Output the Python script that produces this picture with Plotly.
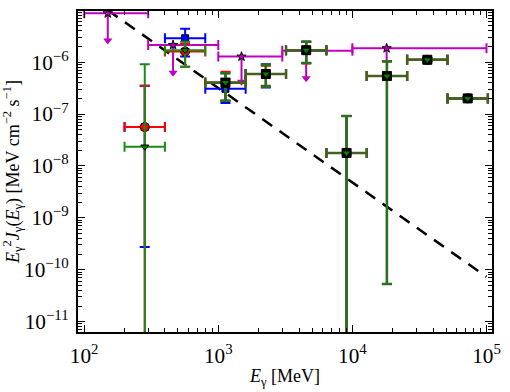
import plotly.graph_objects as go

# ---------------- data ----------------
# energy bins (MeV) for binned spectra
E_c = [283, 566, 1131, 2263, 4525, 9051, 18102, 36204, 72408]
E_lo = [200, 400, 800, 1600, 3200, 6400, 12800, 25600, 51200]
E_hi = [400, 800, 1600, 3200, 6400, 12800, 25600, 51200, 102400]

BOTTOM = 1e-13  # error bars running off the bottom of the plot

# green triangles
g_y = [2.34e-8, 1.70e-6, 4.07e-7, 5.9e-7, 1.70e-6, 1.78e-8, 5.4e-7, 1.11e-6, 2.0e-7]
g_up = [9.1e-7, 2.46e-6, 6.1e-7, 8.9e-7, 2.46e-6, 9.2e-8, 1.04e-6, 1.17e-6, 2.1e-7]
g_dn = [BOTTOM, 8.1e-7, 1.8e-7, 3.4e-7, 9.6e-7, BOTTOM, 5.3e-11, 1.05e-6, 1.9e-7]

# red circles
r_y = [5.6e-8, 1.60e-6, 4.06e-7, 5.9e-7, 1.70e-6, 1.78e-8, 5.4e-7, 1.11e-6, 2.0e-7]
r_up = [3.52e-7, 2.26e-6, 6.5e-7, 8.5e-7, 2.46e-6, 9.2e-8, 1.04e-6, 1.17e-6, 2.1e-7]
r_dn = [BOTTOM, 8.1e-7, 1.8e-7, 3.5e-7, 9.4e-7, BOTTOM, 5.3e-11, 1.05e-6, 1.9e-7]

# blue squares
b_y = [5.6e-8, 2.88e-6, 3.06e-7, 5.9e-7, 1.70e-6, 1.78e-8, 5.4e-7, 1.11e-6, 2.0e-7]
b_up = [3.52e-7, 4.4e-6, 4.76e-7, 9.1e-7, 2.46e-6, 9.2e-8, 1.04e-6, 1.17e-6, 2.1e-7]
b_dn = [2.74e-10, 1.28e-6, 1.63e-7, 3.24e-7, 9.6e-7, BOTTOM, 5.3e-11, 1.05e-6, 1.9e-7]

# black squares (from 800 MeV upwards)
k_E = E_c[2:]
k_lo = E_lo[2:]
k_hi = E_hi[2:]
k_y = [4.0e-7, 5.9e-7, 1.70e-6, 1.78e-8, 5.4e-7, 1.11e-6, 2.0e-7]
k_up = [6.1e-7, 8.9e-7, 2.46e-6, 9.2e-8, 1.04e-6, 1.17e-6, 2.1e-7]
k_dn = [1.8e-7, 3.4e-7, 9.6e-7, BOTTOM, 5.3e-11, 1.05e-6, 1.9e-7]

# magenta upper limits (stars)
m_E = [150, 460, 1490, 4520, 18000]
m_lo = [100, 300, 1000, 3000, 10000]
m_hi = [300, 1000, 3000, 10000, 100000]
m_y = [8.7e-6, 2.14e-6, 1.28e-6, 1.65e-6, 1.85e-6]
m_tip = [2.61e-6, 6.24e-7, 4.19e-7, 4.9e-7, 1.0e-6]
m_head = [True, True, True, True, False]

# dashed power-law line
line_E = [150, 100000]
line_F = [1.0e-5, 7.3e-11]

# ---------------- figure ----------------
fig = go.Figure()


def ex(x, lo, hi, color, th=2, w=5):
    return dict(type="data", symmetric=False,
                array=[h - v for h, v in zip(hi, x)],
                arrayminus=[v - l for v, l in zip(x, lo)],
                color=color, thickness=th, width=w)


MAG = "#c000c0"

# dashed line
fig.add_trace(go.Scatter(x=line_E, y=line_F, mode="lines",
                         line=dict(color="black", width=2.5, dash="12px,9px"),
                         hoverinfo="skip"))

# magenta upper limits
fig.add_trace(go.Scatter(
    x=m_E, y=m_y, mode="markers",
    marker=dict(symbol="star", size=7, color=MAG, line=dict(color="black", width=1)),
    error_x=ex(m_E, m_lo, m_hi, MAG, th=2, w=5),
    error_y=dict(type="data", symmetric=False, array=[0] * len(m_y),
                 arrayminus=[v - t for v, t in zip(m_y, m_tip)],
                 color=MAG, thickness=2, width=0)))
fig.add_trace(go.Scatter(
    x=[e for e, h in zip(m_E, m_head) if h],
    y=[t for t, h in zip(m_tip, m_head) if h],
    mode="markers",
    marker=dict(symbol="triangle-down", size=8, color=MAG, line=dict(width=0))))

# blue
fig.add_trace(go.Scatter(
    x=E_c, y=b_y, mode="markers",
    marker=dict(symbol="square", size=7, color="#0000ff", line=dict(color="black", width=1)),
    error_x=ex(E_c, E_lo, E_hi, "#0000ff"),
    error_y=ex(b_y, b_dn, b_up, "#0000ff")))

# red
fig.add_trace(go.Scatter(
    x=E_c, y=r_y, mode="markers",
    marker=dict(symbol="circle", size=9, color="#ff0000", line=dict(color="black", width=1)),
    error_x=ex(E_c, E_lo, E_hi, "#ff0000"),
    error_y=ex(r_y, r_dn, r_up, "#ff0000")))

# green
fig.add_trace(go.Scatter(
    x=E_c, y=g_y, mode="markers",
    marker=dict(symbol="triangle-down", size=7, color="#008000", line=dict(color="black", width=1)),
    error_x=ex(E_c, E_lo, E_hi, "#1a8a1a"),
    error_y=ex(g_y, g_dn, g_up, "#1a8a1a")))

# black squares with olive bars
kx = ex(k_E, k_lo, k_hi, "#45601f", th=2.5)
ky = ex(k_y, k_dn, k_up, "#2a701f", th=2.5)
fig.add_trace(go.Scatter(
    x=k_E, y=k_y, mode="markers",
    marker=dict(symbol="square", size=9, color="black", line=dict(color="black", width=1)),
    error_x=kx, error_y=ky))

# green triangles drawn again on top of the black squares
fig.add_trace(go.Scatter(
    x=k_E, y=g_y[2:], mode="markers",
    marker=dict(symbol="triangle-down", size=6, color="#008000", line=dict(width=0))))

SERIF = "Liberation Serif, Times New Roman, serif"

axis_common = dict(
    type="log", showgrid=False, zeroline=False,
    showline=True, linecolor="black", linewidth=2, mirror="allticks",
    ticks="inside", ticklen=7, tickwidth=1.3, tickcolor="black",
    minor=dict(ticks="inside", ticklen=4, tickwidth=1, tickcolor="black", showgrid=False),
    exponentformat="power", dtick=1,
    tickfont=dict(family=SERIF, size=17, color="black"),
)

fig.update_layout(
    width=510, height=392,
    margin=dict(l=77, r=10, t=9, b=51),
    paper_bgcolor="white", plot_bgcolor="white",
    showlegend=False,
    xaxis=dict(axis_common, range=[1.954, 5.041],
               ticklabelstandoff=4,
               title=dict(text="<i>E</i><sub>γ</sub> [MeV]",
                          font=dict(family=SERIF, size=18, color="black"),
                          standoff=3)),
    yaxis=dict(axis_common, range=[-11.2, -5.015],
               ticklabelstandoff=4,
               title=dict(text="<i>E</i><sub>γ</sub><sup>2</sup><i>J</i><sub>γ</sub>(<i>E</i><sub>γ</sub>) [MeV cm<sup>−2</sup> s<sup>−1</sup>]",
                          font=dict(family=SERIF, size=18, color="black"),
                          standoff=2)),
)

fig.write_html("out.html")
